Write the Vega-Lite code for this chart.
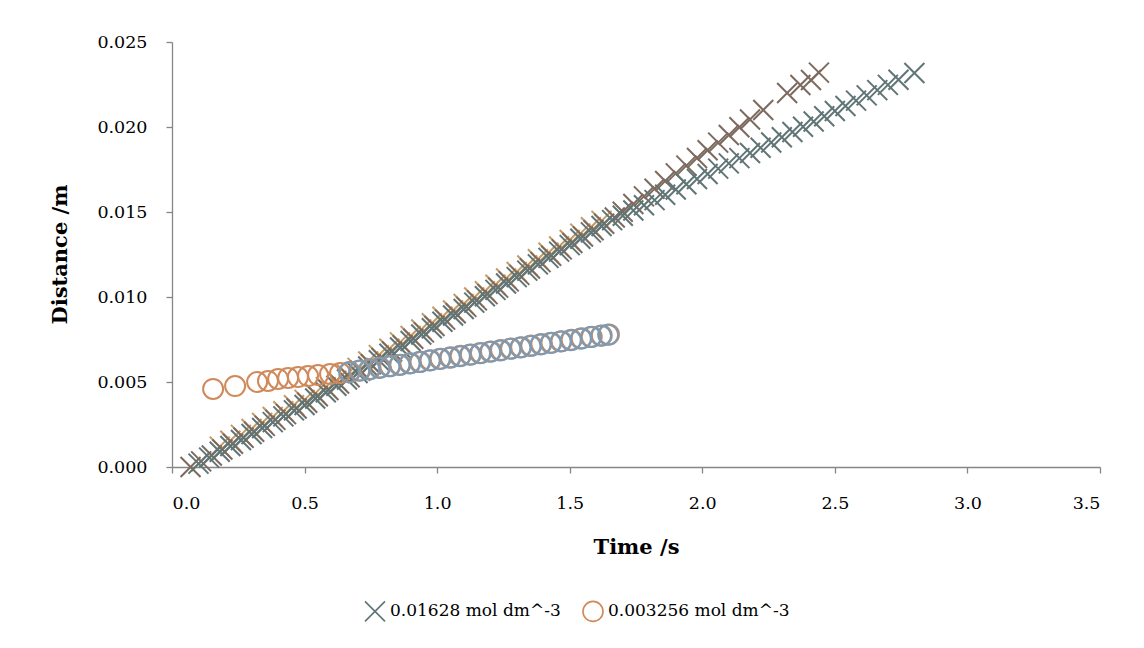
{
  "$schema": "https://vega.github.io/schema/vega-lite/v6.json",
  "autosize": "none",
  "width": 928,
  "height": 425,
  "padding": {"left": 172, "top": 42, "right": 44, "bottom": 181},
  "background": "white",
  "config": {
    "view": {"stroke": null},
    "font": "DejaVu Serif",
    "axis": {
      "labelFont": "DejaVu Serif", "titleFont": "DejaVu Serif",
      "labelFontSize": 17.5, "titleFontSize": 21, "titleFontWeight": "bold",
      "labelColor": "#000000", "titleColor": "#000000",
      "domainColor": "#868686", "tickColor": "#868686", "tickSize": 6,
      "domainWidth": 1.3, "tickWidth": 1.3, "grid": false
    },
    "legend": {"labelFont": "DejaVu Serif", "labelFontSize": 17, "labelColor": "#000000", "labelLimit": 0}
  },
  "data": {"values": [
    {"s":"c","t":0.18,"d":0.0012},{"s":"c","t":0.22,"d":0.00154},{"s":"c","t":0.26,"d":0.00189},{"s":"c","t":0.30,"d":0.00224},{"s":"c","t":0.34,"d":0.00259},{"s":"c","t":0.38,"d":0.00294},{"s":"c","t":0.42,"d":0.00328},{"s":"c","t":0.46,"d":0.00363},{"s":"c","t":0.50,"d":0.00395},{"s":"c","t":0.54,"d":0.00433},{"s":"c","t":0.58,"d":0.0047},{"s":"c","t":0.62,"d":0.00508},{"s":"c","t":0.66,"d":0.00545},{"s":"c","t":0.70,"d":0.00583},{"s":"c","t":0.74,"d":0.00621},{"s":"c","t":0.78,"d":0.00658},{"s":"c","t":0.82,"d":0.00696},{"s":"c","t":0.86,"d":0.00733},{"s":"c","t":0.90,"d":0.00771},{"s":"c","t":0.94,"d":0.00809},{"s":"c","t":0.98,"d":0.00846},{"s":"c","t":1.02,"d":0.00884},{"s":"c","t":1.06,"d":0.00921},{"s":"c","t":1.10,"d":0.00959},{"s":"c","t":1.14,"d":0.00997},{"s":"c","t":1.18,"d":0.01034},{"s":"c","t":1.22,"d":0.01072},{"s":"c","t":1.26,"d":0.01109},{"s":"c","t":1.30,"d":0.01147},{"s":"c","t":1.34,"d":0.01185},{"s":"c","t":1.38,"d":0.01222},{"s":"c","t":1.42,"d":0.0126},{"s":"c","t":1.46,"d":0.01297},{"s":"c","t":1.50,"d":0.01335},{"s":"c","t":1.54,"d":0.01373},{"s":"c","t":1.58,"d":0.0141},{"s":"c","t":1.62,"d":0.01448},

    {"s":"b","t":0.07,"d":0.0},{"s":"b","t":0.11,"d":0.00033},{"s":"b","t":0.15,"d":0.00068},{"s":"b","t":0.19,"d":0.00103},{"s":"b","t":0.23,"d":0.00137},{"s":"b","t":0.27,"d":0.00172},{"s":"b","t":0.31,"d":0.00207},{"s":"b","t":0.35,"d":0.00242},{"s":"b","t":0.39,"d":0.00277},{"s":"b","t":0.43,"d":0.00311},{"s":"b","t":0.47,"d":0.00344},{"s":"b","t":0.51,"d":0.00378},{"s":"b","t":0.55,"d":0.00416},{"s":"b","t":0.59,"d":0.00453},{"s":"b","t":0.63,"d":0.00491},{"s":"b","t":0.67,"d":0.00528},{"s":"b","t":0.71,"d":0.00566},{"s":"b","t":0.75,"d":0.00604},{"s":"b","t":0.79,"d":0.00641},{"s":"b","t":0.83,"d":0.00679},{"s":"b","t":0.87,"d":0.00716},{"s":"b","t":0.91,"d":0.00754},{"s":"b","t":0.95,"d":0.00792},{"s":"b","t":0.99,"d":0.00829},{"s":"b","t":1.03,"d":0.00867},{"s":"b","t":1.07,"d":0.00904},{"s":"b","t":1.11,"d":0.00942},{"s":"b","t":1.15,"d":0.0098},{"s":"b","t":1.19,"d":0.01017},{"s":"b","t":1.23,"d":0.01055},{"s":"b","t":1.27,"d":0.01092},{"s":"b","t":1.31,"d":0.0113},{"s":"b","t":1.35,"d":0.01168},{"s":"b","t":1.39,"d":0.01205},{"s":"b","t":1.43,"d":0.01243},{"s":"b","t":1.47,"d":0.0128},{"s":"b","t":1.51,"d":0.01318},{"s":"b","t":1.55,"d":0.01356},{"s":"b","t":1.59,"d":0.01393},{"s":"b","t":1.63,"d":0.01431},{"s":"b","t":1.67,"d":0.01468},{"s":"b","t":1.70,"d":0.01501},{"s":"b","t":1.74,"d":0.01547},{"s":"b","t":1.78,"d":0.01592},{"s":"b","t":1.82,"d":0.01637},{"s":"b","t":1.86,"d":0.01682},{"s":"b","t":1.90,"d":0.01727},{"s":"b","t":1.94,"d":0.01773},{"s":"b","t":1.98,"d":0.01818},{"s":"b","t":2.02,"d":0.01863},{"s":"b","t":2.06,"d":0.01908},{"s":"b","t":2.10,"d":0.01953},{"s":"b","t":2.14,"d":0.01999},{"s":"b","t":2.18,"d":0.02044},{"s":"b","t":2.23,"d":0.021},{"s":"b","t":2.32,"d":0.022},{"s":"b","t":2.37,"d":0.02247},{"s":"b","t":2.41,"d":0.02276},{"s":"b","t":2.44,"d":0.0232},

    {"s":"0.01628 mol dm^-3","t":0.10,"d":0.0002},{"s":"0.01628 mol dm^-3","t":0.14,"d":0.00055},{"s":"0.01628 mol dm^-3","t":0.18,"d":0.0009},{"s":"0.01628 mol dm^-3","t":0.22,"d":0.00124},{"s":"0.01628 mol dm^-3","t":0.26,"d":0.00159},{"s":"0.01628 mol dm^-3","t":0.30,"d":0.00194},{"s":"0.01628 mol dm^-3","t":0.34,"d":0.00229},{"s":"0.01628 mol dm^-3","t":0.38,"d":0.00264},{"s":"0.01628 mol dm^-3","t":0.42,"d":0.00298},{"s":"0.01628 mol dm^-3","t":0.46,"d":0.00333},{"s":"0.01628 mol dm^-3","t":0.50,"d":0.00365},{"s":"0.01628 mol dm^-3","t":0.54,"d":0.00403},{"s":"0.01628 mol dm^-3","t":0.58,"d":0.0044},{"s":"0.01628 mol dm^-3","t":0.62,"d":0.00478},{"s":"0.01628 mol dm^-3","t":0.66,"d":0.00515},{"s":"0.01628 mol dm^-3","t":0.70,"d":0.00553},{"s":"0.01628 mol dm^-3","t":0.74,"d":0.00591},{"s":"0.01628 mol dm^-3","t":0.78,"d":0.00628},{"s":"0.01628 mol dm^-3","t":0.82,"d":0.00666},{"s":"0.01628 mol dm^-3","t":0.86,"d":0.00703},{"s":"0.01628 mol dm^-3","t":0.90,"d":0.00741},{"s":"0.01628 mol dm^-3","t":0.94,"d":0.00779},{"s":"0.01628 mol dm^-3","t":0.98,"d":0.00816},{"s":"0.01628 mol dm^-3","t":1.02,"d":0.00854},{"s":"0.01628 mol dm^-3","t":1.06,"d":0.00891},{"s":"0.01628 mol dm^-3","t":1.10,"d":0.00929},{"s":"0.01628 mol dm^-3","t":1.14,"d":0.00967},{"s":"0.01628 mol dm^-3","t":1.18,"d":0.01004},{"s":"0.01628 mol dm^-3","t":1.22,"d":0.01042},{"s":"0.01628 mol dm^-3","t":1.26,"d":0.01079},{"s":"0.01628 mol dm^-3","t":1.30,"d":0.01117},{"s":"0.01628 mol dm^-3","t":1.34,"d":0.01155},{"s":"0.01628 mol dm^-3","t":1.38,"d":0.01192},{"s":"0.01628 mol dm^-3","t":1.42,"d":0.0123},{"s":"0.01628 mol dm^-3","t":1.46,"d":0.01267},{"s":"0.01628 mol dm^-3","t":1.50,"d":0.01305},{"s":"0.01628 mol dm^-3","t":1.54,"d":0.01343},{"s":"0.01628 mol dm^-3","t":1.58,"d":0.0138},{"s":"0.01628 mol dm^-3","t":1.62,"d":0.01418},{"s":"0.01628 mol dm^-3","t":1.66,"d":0.01452},{"s":"0.01628 mol dm^-3","t":1.70,"d":0.01478},{"s":"0.01628 mol dm^-3","t":1.74,"d":0.01509},{"s":"0.01628 mol dm^-3","t":1.78,"d":0.0154},{"s":"0.01628 mol dm^-3","t":1.82,"d":0.0157},{"s":"0.01628 mol dm^-3","t":1.86,"d":0.01601},{"s":"0.01628 mol dm^-3","t":1.90,"d":0.01632},{"s":"0.01628 mol dm^-3","t":1.94,"d":0.01663},{"s":"0.01628 mol dm^-3","t":1.98,"d":0.01694},{"s":"0.01628 mol dm^-3","t":2.02,"d":0.01724},{"s":"0.01628 mol dm^-3","t":2.06,"d":0.01755},{"s":"0.01628 mol dm^-3","t":2.10,"d":0.01786},{"s":"0.01628 mol dm^-3","t":2.14,"d":0.01817},{"s":"0.01628 mol dm^-3","t":2.18,"d":0.01847},{"s":"0.01628 mol dm^-3","t":2.22,"d":0.01878},{"s":"0.01628 mol dm^-3","t":2.26,"d":0.01909},{"s":"0.01628 mol dm^-3","t":2.30,"d":0.0194},{"s":"0.01628 mol dm^-3","t":2.34,"d":0.01971},{"s":"0.01628 mol dm^-3","t":2.38,"d":0.02001},{"s":"0.01628 mol dm^-3","t":2.42,"d":0.02032},{"s":"0.01628 mol dm^-3","t":2.46,"d":0.02063},{"s":"0.01628 mol dm^-3","t":2.50,"d":0.02094},{"s":"0.01628 mol dm^-3","t":2.54,"d":0.02124},{"s":"0.01628 mol dm^-3","t":2.58,"d":0.02155},{"s":"0.01628 mol dm^-3","t":2.62,"d":0.02186},{"s":"0.01628 mol dm^-3","t":2.66,"d":0.02217},{"s":"0.01628 mol dm^-3","t":2.70,"d":0.02248},{"s":"0.01628 mol dm^-3","t":2.74,"d":0.02278},{"s":"0.01628 mol dm^-3","t":2.80,"d":0.02318},

    {"s":"0.003256 mol dm^-3","t":0.155,"d":0.00459},{"s":"0.003256 mol dm^-3","t":0.238,"d":0.00476},{"s":"0.003256 mol dm^-3","t":0.321,"d":0.005},{"s":"0.003256 mol dm^-3","t":0.362,"d":0.00506},{"s":"0.003256 mol dm^-3","t":0.400,"d":0.00518},{"s":"0.003256 mol dm^-3","t":0.438,"d":0.00524},{"s":"0.003256 mol dm^-3","t":0.475,"d":0.00529},{"s":"0.003256 mol dm^-3","t":0.513,"d":0.00535},{"s":"0.003256 mol dm^-3","t":0.551,"d":0.00541},{"s":"0.003256 mol dm^-3","t":0.596,"d":0.00547},{"s":"0.003256 mol dm^-3","t":0.634,"d":0.00553},{"s":"0.003256 mol dm^-3","t":0.671,"d":0.00559},{"s":"0.003256 mol dm^-3","t":0.709,"d":0.00568},{"s":"0.003256 mol dm^-3","t":0.747,"d":0.00576},{"s":"0.003256 mol dm^-3","t":0.785,"d":0.00585},{"s":"0.003256 mol dm^-3","t":0.823,"d":0.00594},{"s":"0.003256 mol dm^-3","t":0.861,"d":0.00602},{"s":"0.003256 mol dm^-3","t":0.899,"d":0.00611},{"s":"0.003256 mol dm^-3","t":0.937,"d":0.00619},{"s":"0.003256 mol dm^-3","t":0.975,"d":0.00628},{"s":"0.003256 mol dm^-3","t":1.013,"d":0.00637},{"s":"0.003256 mol dm^-3","t":1.051,"d":0.00645},{"s":"0.003256 mol dm^-3","t":1.089,"d":0.00654},{"s":"0.003256 mol dm^-3","t":1.127,"d":0.00662},{"s":"0.003256 mol dm^-3","t":1.165,"d":0.00671},{"s":"0.003256 mol dm^-3","t":1.203,"d":0.0068},{"s":"0.003256 mol dm^-3","t":1.241,"d":0.00688},{"s":"0.003256 mol dm^-3","t":1.279,"d":0.00697},{"s":"0.003256 mol dm^-3","t":1.317,"d":0.00705},{"s":"0.003256 mol dm^-3","t":1.355,"d":0.00714},{"s":"0.003256 mol dm^-3","t":1.393,"d":0.00723},{"s":"0.003256 mol dm^-3","t":1.431,"d":0.00731},{"s":"0.003256 mol dm^-3","t":1.469,"d":0.0074},{"s":"0.003256 mol dm^-3","t":1.507,"d":0.00748},{"s":"0.003256 mol dm^-3","t":1.545,"d":0.00757},{"s":"0.003256 mol dm^-3","t":1.583,"d":0.00766},{"s":"0.003256 mol dm^-3","t":1.621,"d":0.00774},{"s":"0.003256 mol dm^-3","t":1.648,"d":0.0078},

    {"s":"e","t":0.668,"d":0.00557},{"s":"e","t":0.706,"d":0.00566},{"s":"e","t":0.744,"d":0.00574},{"s":"e","t":0.782,"d":0.00583},{"s":"e","t":0.820,"d":0.00592},{"s":"e","t":0.858,"d":0.006},{"s":"e","t":0.896,"d":0.00609},{"s":"e","t":0.934,"d":0.00617},{"s":"e","t":0.972,"d":0.00626},{"s":"e","t":1.010,"d":0.00635},{"s":"e","t":1.048,"d":0.00643},{"s":"e","t":1.086,"d":0.00652},{"s":"e","t":1.124,"d":0.0066},{"s":"e","t":1.162,"d":0.00669},{"s":"e","t":1.200,"d":0.00678},{"s":"e","t":1.238,"d":0.00686},{"s":"e","t":1.276,"d":0.00695},{"s":"e","t":1.314,"d":0.00703},{"s":"e","t":1.352,"d":0.00712},{"s":"e","t":1.390,"d":0.00721},{"s":"e","t":1.428,"d":0.00729},{"s":"e","t":1.466,"d":0.00738},{"s":"e","t":1.504,"d":0.00746},{"s":"e","t":1.542,"d":0.00755},{"s":"e","t":1.580,"d":0.00764},{"s":"e","t":1.618,"d":0.00772},{"s":"e","t":1.645,"d":0.00778}
  ]},
  "mark": {"type": "point", "filled": false, "strokeWidth": 2, "opacity": 1},
  "encoding": {
    "x": {
      "field": "t", "type": "quantitative",
      "scale": {"domain": [0, 3.5], "nice": false, "zero": false},
      "axis": {"values": [0, 0.5, 1, 1.5, 2, 2.5, 3, 3.5], "format": ".1f", "title": "Time /s",
               "labelPadding": 21, "titleX": 464, "titleY": 80, "titleBaseline": "middle"}
    },
    "y": {
      "field": "d", "type": "quantitative",
      "scale": {"domain": [0, 0.025], "nice": false},
      "axis": {"values": [0, 0.005, 0.01, 0.015, 0.02, 0.025], "format": ".3f", "title": "Distance /m",
               "labelPadding": 19, "titleX": -112, "titleY": 212, "titleAngle": -90,
               "titleBaseline": "middle", "titleAlign": "center"}
    },
    "color": {
      "field": "s", "type": "nominal",
      "scale": {"domain": ["0.01628 mol dm^-3", "b", "c", "0.003256 mol dm^-3", "e"],
                "range": ["#5f7576", "#7d6a5f", "#c49a63", "#d0895a", "#7e9ab2"]},
      "legend": {"values": ["0.01628 mol dm^-3", "0.003256 mol dm^-3"], "title": null,
                 "orient": "none", "legendX": 192, "legendY": 558, "direction": "horizontal",
                 "symbolSize": 170, "symbolStrokeWidth": 1.6, "labelOffset": 4, "columnPadding": 18}
    },
    "shape": {
      "field": "s", "type": "nominal",
      "scale": {"domain": ["0.01628 mol dm^-3", "b", "c", "0.003256 mol dm^-3", "e"],
                "range": ["M-1,-1L1,1M-1,1L1,-1", "M-1,-1L1,1M-1,1L1,-1", "M-1,-1L1,1M-1,1L1,-1", "circle", "circle"]},
      "legend": {"values": ["0.01628 mol dm^-3", "0.003256 mol dm^-3"], "title": null,
                 "orient": "none", "legendX": 192, "legendY": 558, "direction": "horizontal",
                 "symbolSize": 170, "symbolStrokeWidth": 1.6, "labelOffset": 4, "columnPadding": 18}
    },
    "size": {
      "field": "s", "type": "nominal",
      "scale": {"domain": ["0.01628 mol dm^-3", "b", "c", "0.003256 mol dm^-3", "e"],
                "range": [400, 400, 400, 260, 260]},
      "legend": null
    }
  }
}
